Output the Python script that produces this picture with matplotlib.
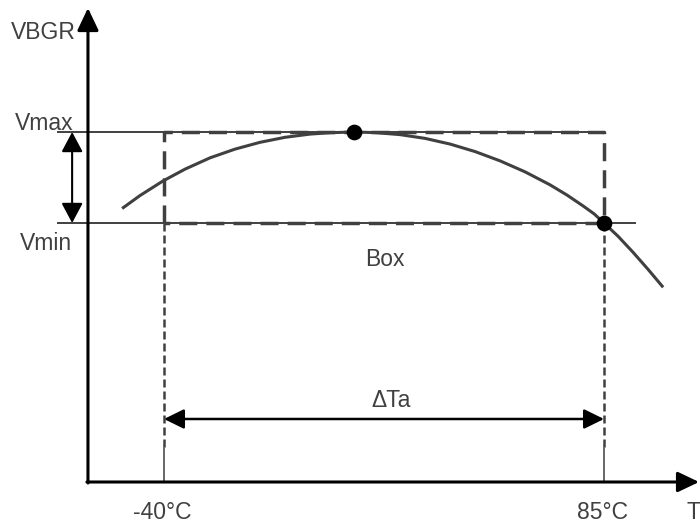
import matplotlib
matplotlib.use('Agg')
import matplotlib.pyplot as plt

# bandgap reference voltage vs temperature
temps = [-51.9, -46.8, -40.3, -34.0, -26.9, -19.8, -12.7, -5.6, 1.5, 7.2,
         14.0, 19.9, 27.0, 34.2, 41.3, 48.4, 55.5, 62.6, 69.7, 74.5,
         79.0, 82.2, 85.0, 89.0, 93.2, 97.5, 101.8]
vbgr = [1.22735, 1.22865, 1.2301, 1.23129, 1.23242, 1.23329, 1.23397, 1.23447, 1.23479, 1.23493,
        1.2350, 1.23494, 1.23474, 1.23436, 1.23379, 1.23304, 1.23211, 1.23101, 1.22971, 1.22869,
        1.22762, 1.22681, 1.2259, 1.22457, 1.22299, 1.22127, 1.21947]

t_min, t_max = -40, 85
v_max, v_min = 1.2350, 1.2259
t_labels = ['-40°C', '85°C']

# sketch layout
t_axis, v_axis = -61.6, 1.2
t_end, v_top = 112.0, 1.2474
t_guide_start = -70.1
t_vmin_end = 93.8
t_vbar = -66.1
v_dta = 1.2063
v_dash_end = 1.2034

plt.rcParams['font.family'] = ['Liberation Sans', 'DejaVu Sans']
line_col = '#404040'
txt_col = '#404040'
fs = 16.5

fig = plt.figure(figsize=(7, 5.26), dpi=100)
ax = fig.add_axes([0, 0, 1, 1])
ax.set_xlim(-86.59, 112.27)
ax.set_ylim(1.1956, 1.2482)
ax.axis('off')

# axes with arrows
ax.annotate('', xy=(t_axis, v_top), xytext=(t_axis, v_axis - 0.0001),
            arrowprops=dict(arrowstyle='-|>,head_length=1.37,head_width=0.65',
                            mutation_scale=10, lw=2.2, color='black',
                            shrinkA=0, shrinkB=0))
ax.annotate('', xy=(t_end, v_axis), xytext=(t_axis - 0.3, v_axis),
            arrowprops=dict(arrowstyle='-|>,head_length=1.3,head_width=0.62',
                            mutation_scale=10, lw=2.2, color='black',
                            shrinkA=0, shrinkB=0))

# Vmax / Vmin guide lines
ax.plot([t_guide_start, t_max], [v_max, v_max], color=line_col, lw=1.4, zorder=2)
ax.plot([t_guide_start, t_vmin_end], [v_min, v_min], color=line_col, lw=1.4, zorder=2)

# lower dashed verticals + solid ends
for t in (t_min, t_max):
    ax.plot([t, t], [v_min, v_dash_end], color=line_col, lw=1.8,
            dashes=(3.2, 1.6), zorder=2)
    ax.plot([t, t], [v_dash_end, v_axis], color=line_col, lw=1.1, zorder=2)

# box
ax.plot([t_min, t_min, t_max, t_max, t_min], [v_min, v_max, v_max, v_min, v_min],
        color=line_col, lw=2.5, dashes=(5.2, 2.6), zorder=3)

# curve
ax.plot(temps, vbgr, color=line_col, lw=2.2, zorder=4,
        solid_capstyle='butt', solid_joinstyle='round')

# dots: peak and the 85C crossing
i_peak = vbgr.index(max(vbgr))
ax.plot([temps[i_peak], t_max], [vbgr[i_peak], v_min], 'o', color='black',
        ms=10.3, zorder=5)

# delta V arrow
ax.annotate('', xy=(t_vbar, v_min), xytext=(t_vbar, v_max),
            arrowprops=dict(arrowstyle='<|-|>,head_length=1.22,head_width=0.65',
                            mutation_scale=10, lw=1.5, color='black',
                            shrinkA=0, shrinkB=0))
# delta T arrow
ax.annotate('', xy=(t_max, v_dta), xytext=(t_min, v_dta),
            arrowprops=dict(arrowstyle='<|-|>,head_length=1.22,head_width=0.6',
                            mutation_scale=10, lw=1.8, color='black',
                            shrinkA=0, shrinkB=0))

# labels
kw = dict(textcoords='offset pixels', fontsize=fs, color=txt_col, va='baseline')
ax.annotate('VBGR', xy=(t_axis, v_top), xytext=(-12, -31), ha='right', **kw)
ax.annotate('Vmax', xy=(t_axis, v_max), xytext=(-14, 2), ha='right', **kw)
ax.annotate('Vmin', xy=(t_axis, v_min), xytext=(-16, -27), ha='right', **kw)
for t, lab in zip((t_min, t_max), t_labels):
    ax.annotate(lab, xy=(t, v_axis), xytext=(-2, -37), ha='center', **kw)
ax.annotate('T', xy=(t_end, v_axis), xytext=(-13, -37), ha='left', **kw)
ax.annotate('Box', xy=((t_min + t_max) / 2, v_min), xytext=(1, -43), ha='center', **kw)
ax.annotate('ΔTa', xy=((t_min + t_max) / 2, v_dta), xytext=(7, 12), ha='center', **kw)

fig.savefig('out.png', dpi=100)
